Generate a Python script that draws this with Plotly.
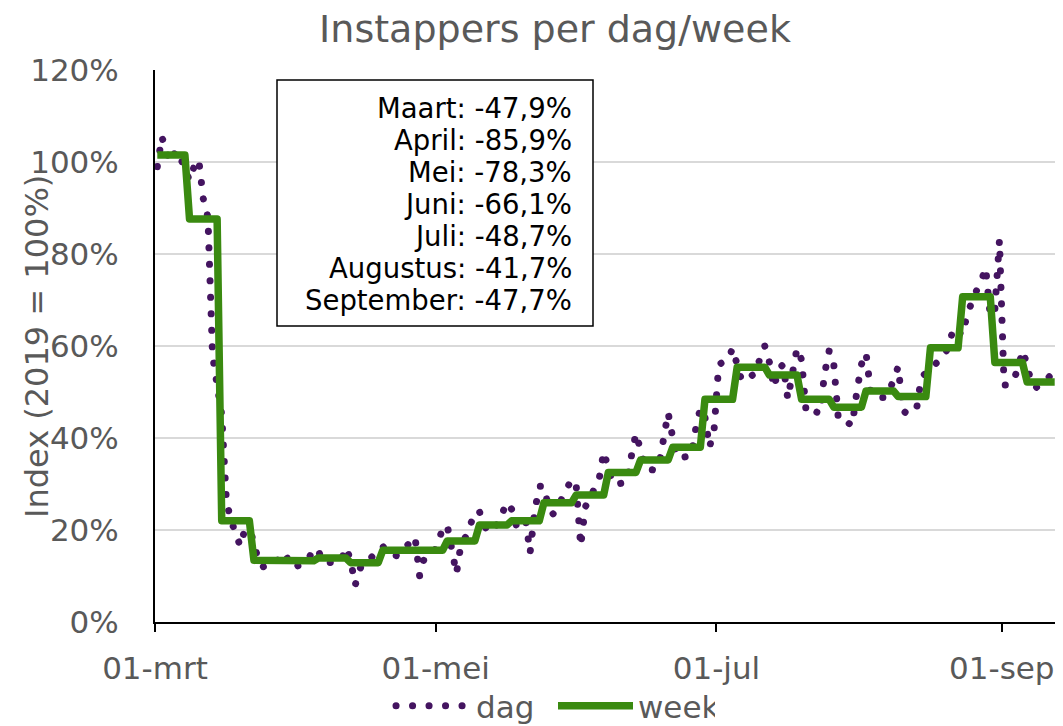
import plotly.graph_objects as go
import pandas as pd

# ---- data (index, 2019 = 100%) ----
start_date = "2020-03-01"
# daily values, one row per week (Sun..Sat)
dag = [
    99, 105.5, 102, 100, 102.5, 101, 98.5,
    96, 99, 100.5, 92, 88, 58, 51,
    45, 26.5, 22, 19.5, 16.5, 20, 20,
    17.5, 13, 12, 12.5, 12.8, 13, 15,
    14.5, 12, 12, 12.5, 12.8, 14, 16,
    15.5, 13, 13, 13, 12.8, 13.5, 16.2,
    13.5, 8, 11.5, 13.2, 13.5, 14.5, 15.5,
    16.5, 15, 14.5, 14.4, 15, 16.5, 17.5,
    18.5, 10, 13.8, 14.5, 15, 17, 20.5,
    21, 15, 10.5, 17, 18.5, 21, 24,
    24, 21, 19.5, 20, 21.5, 24, 26,
    24.5, 21, 22, 22.5, 15, 24, 29.5,
    29.5, 25, 23.5, 25, 27, 29.5, 31,
    30, 16.5, 25, 27, 29, 31, 37,
    34, 30, 30, 30.2, 30.4, 36, 41,
    37.5, 33.5, 33.2, 33, 34, 40, 45.5,
    40, 35.8, 35.8, 36, 36.1, 42, 46.5,
    44.5, 38, 42, 56, 56.5, 57, 59.5,
    56, 52.4, 53, 53.5, 54, 57.5, 60,
    56.5, 51, 55, 56, 48.5, 55, 59.5,
    57, 45.5, 46, 45.5, 45.4, 54, 59,
    56, 44, 44, 43.5, 42.7, 50, 56,
    58.5, 50, 48.8, 48.8, 48.8, 50, 53,
    55.5, 46, 45.2, 46, 46.4, 53, 54.5,
    55.5, 56, 57.2, 58, 60, 64, 63,
    62.4, 67, 70, 72, 74, 77, 66.5,
    68, 83, 51.5, 51.5, 52.5, 55, 59,
    56, 51.5, 51, 51.5, 52.5, 53.5, 56,
]
# weekly averages (weeks starting on Sunday)
week = [101.5, 87.6, 22.0, 13.4, 13.3, 13.9, 12.9, 15.6, 15.6, 17.6,
        21.1, 22.0, 25.9, 27.6, 32.5, 35.2, 38.0, 48.4, 55.4, 53.7,
        48.4, 46.7, 50.2, 49.0, 59.6, 70.7, 56.4, 52.2]

months = ["Maart", "April", "Mei", "Juni", "Juli", "Augustus", "September"]
month_change = ["-47,9%", "-85,9%", "-78,3%", "-66,1%", "-48,7%", "-41,7%", "-47,7%"]

x_tickvals = ["2020-03-01", "2020-05-01", "2020-07-01", "2020-09-01"]
x_ticktext = ["01-mrt", "01-mei", "01-jul", "01-sep"]
x_range = ["2020-03-01", "2020-09-13"]

# ---- build ----
days = pd.date_range(start_date, periods=len(dag), freq="D") + pd.Timedelta(hours=12)
week_daily = [week[i // 7] for i in range(len(dag))]

FONT = "DejaVu Sans, Verdana, sans-serif"
GRAY = "#595959"
PURPLE = "#441460"
GREEN = "#3A8A10"

# page body has an 8px margin -> figure coordinates = screen - 8
W, H = 1055, 718
PL, PR, PT, PB = 147, 1049, 62, 614   # plot area in figure pixels
PW, PH = PR - PL, PB - PT


def px(xs):  # screen x -> paper
    return (xs - 8 - PL) / PW


def py(ys):  # screen y -> paper
    return (PB - (ys - 8)) / PH


fig = go.Figure()
fig.add_trace(go.Scatter(
    x=days, y=dag, mode="lines", name="dag",
    line=dict(color=PURPLE, width=7, dash="6px,10.5px"),
))
fig.add_trace(go.Scatter(
    x=days, y=week_daily, mode="lines", name="week",
    line=dict(color=GREEN, width=7.5),
))

# info box
fig.add_shape(type="rect", xref="paper", yref="paper",
              x0=px(277), x1=px(593), y0=py(326), y1=py(80),
              line=dict(color="black", width=1.5), fillcolor="white", layer="above")
for i, (m, v) in enumerate(zip(months, month_change)):
    yc = 108 + i * 32
    fig.add_annotation(xref="paper", yref="paper",
                       x=px(574), y=py(yc),
                       xanchor="right", yanchor="middle", showarrow=False,
                       text=f"{m}: {v}",
                       font=dict(family=FONT, size=27.5, color="black"))

# y-axis title (overlapping tick labels, as in the original)
fig.add_annotation(xref="paper", yref="paper",
                   x=px(37), y=py(347),
                   xanchor="center", yanchor="middle", showarrow=False,
                   textangle=-90, text="Index (2019 = 100%)",
                   font=dict(family=FONT, size=32, color=GRAY))

fig.update_layout(
    width=W, height=H,
    margin=dict(l=PL, r=W - PR, t=PT, b=H - PB, autoexpand=False),
    paper_bgcolor="white", plot_bgcolor="white",
    font=dict(family=FONT, size=31, color=GRAY),
    title=dict(text="Instappers per dag/week", xref="container", x=(555 - 8) / W,
               xanchor="center", yref="container", y=1 - (29 - 8) / H, yanchor="middle",
               font=dict(family=FONT, size=38, color=GRAY), automargin=False),
    showlegend=True,
    legend=dict(orientation="h", xref="paper", x=px(391), xanchor="left",
                yref="container", y=1 - (706 - 8) / H, yanchor="middle",
                font=dict(family=FONT, size=31, color=GRAY),
                itemwidth=75, entrywidth=72, entrywidthmode="pixels",
                bgcolor="rgba(0,0,0,0)"),
    xaxis=dict(type="date", range=x_range, tickvals=x_tickvals, ticktext=x_ticktext,
               showgrid=False, showline=True, linecolor="black", linewidth=2,
               ticks="outside", ticklen=8, tickcolor="black", tickwidth=2,
               ticklabelstandoff=10, tickfont=dict(family=FONT, size=31, color=GRAY),
               zeroline=False, fixedrange=True, automargin=False),
    yaxis=dict(range=[0, 120], dtick=20, ticksuffix="%", showgrid=True,
               gridcolor="#d9d9d9", gridwidth=2, showline=True, mirror=True,
               linecolor="black", linewidth=2, ticks="", zeroline=False,
               ticklabelstandoff=28, tickfont=dict(family=FONT, size=31, color=GRAY),
               fixedrange=True, automargin=False),
)

post = """
var gd = document.getElementById('{plot_id}');
function roundDots(){
  gd.querySelectorAll('path').forEach(function(p){
    var d = p.style.strokeDasharray || '';
    if (d.indexOf('10.5') >= 0 || p.getAttribute('data-dag')) {
      p.setAttribute('data-dag', '1');
      p.style.strokeLinecap = 'round';
      p.style.strokeDasharray = '0.1px, 16.4px';
    }
  });
  gd.querySelectorAll('path.js-line').forEach(function(p){ p.style.strokeLinejoin = 'round'; });
}
roundDots();
if (gd.on) { gd.on('plotly_afterplot', roundDots); }
"""

fig.write_html("out.html", post_script=post)
